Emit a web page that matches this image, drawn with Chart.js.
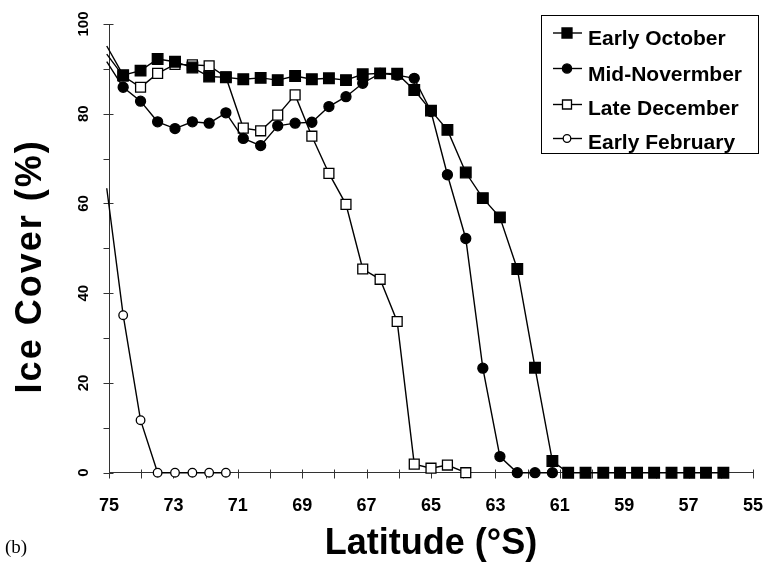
<!DOCTYPE html>
<html><head><meta charset="utf-8">
<script src="https://cdn.jsdelivr.net/npm/chart.js@4.4.0/dist/chart.umd.min.js"></script>
<style>html,body{margin:0;padding:0;background:#fff;} #wrap{width:763px;height:566px;position:relative;}</style>
</head><body><div id="wrap"><canvas id="c" width="763" height="566"></canvas></div>
<script>
// ---- data ----
const latitudes = [75.07, 74.56, 74.02, 73.49, 72.95, 72.41, 71.89, 71.37, 70.83, 70.29, 69.76, 69.22, 68.70, 68.17, 67.64, 67.12, 66.58, 66.05, 65.52, 65.00, 64.49, 63.92, 63.39, 62.86, 62.32, 61.77, 61.23, 60.74, 60.20, 59.65, 59.13, 58.60, 58.07, 57.53, 56.98, 56.46, 55.92];
const earlyOctober = [95.1, 88.6, 89.6, 92.2, 91.6, 90.3, 88.3, 88.1, 87.7, 88.0, 87.5, 88.4, 87.7, 87.9, 87.5, 88.8, 89.0, 88.9, 85.3, 80.7, 76.4, 66.9, 61.2, 56.9, 45.4, 23.4, 2.6, 0, 0, 0, 0, 0, 0, 0, 0, 0, 0];
const midNovember = [91.6, 85.9, 82.8, 78.2, 76.7, 78.2, 77.9, 80.2, 74.5, 72.9, 77.3, 77.9, 78.1, 81.6, 83.8, 86.8, 89.0, 88.6, 87.9, 80.5, 66.4, 52.2, 23.3, 3.6, 0, 0, 0];
const lateDecember = [93.3, 88.4, 85.9, 89.0, 91.0, 90.9, 90.7, 88.2, 76.8, 76.2, 79.7, 84.2, 75.0, 66.7, 59.8, 45.4, 43.1, 33.7, 1.9, 1.0, 1.7, 0];
const earlyFebruary = [63.4, 35.1, 11.7, 0, 0, 0, 0, 0];
const seriesLabels = ['Early October', 'Mid-Novermber', 'Late December', 'Early February'];
const xTickLabels = [75, 73, 71, 69, 67, 65, 63, 61, 59, 57, 55];
const yTickLabels = [0, 20, 40, 60, 80, 100];

const SANS = "'Liberation Sans', Arial, Helvetica, sans-serif";

function pts(values) {
  return values.map((v, i) => ({x: latitudes[i], y: v}));
}
// first sample sits on the axis edge, drawn without a marker
function radius(r) { return ctx => (ctx.dataIndex === 0 ? 0 : r); }

const styles = [
  {pointStyle: 'rect', r: 7.5, fill: '#000'},
  {pointStyle: 'circle', r: 5, fill: '#000'},
  {pointStyle: 'rect', r: 7, fill: '#fff'},
  {pointStyle: 'circle', r: 4.3, fill: '#fff'}
];
const seriesValues = [earlyOctober, midNovember, lateDecember, earlyFebruary];

const datasets = seriesValues.map((vals, k) => ({
  label: seriesLabels[k],
  data: pts(vals),
  borderColor: '#000',
  borderWidth: 1.4,
  tension: 0,
  clip: false,
  pointStyle: styles[k].pointStyle,
  pointRadius: radius(styles[k].r),
  pointHoverRadius: radius(styles[k].r),
  pointBackgroundColor: styles[k].fill,
  pointBorderColor: '#000',
  pointBorderWidth: 1.3
}));

const tickMarks = {
  id: 'tickMarks',
  beforeDatasetsDraw(chart) {
    const {ctx, scales: {x, y}} = chart;
    ctx.save();
    ctx.strokeStyle = '#333';
    ctx.lineWidth = 1;
    ctx.beginPath();
    const xb = Math.round(x.top) + 0.5;
    x.ticks.forEach(t => {
      const px = Math.round(x.getPixelForValue(t.value)) + 0.5;
      ctx.moveTo(px, xb - 4); ctx.lineTo(px, xb + 5);
    });
    const yb = Math.round(y.right) - 0.5;
    y.ticks.forEach(t => {
      const py = Math.round(y.getPixelForValue(t.value)) + 0.5;
      const major = yTickLabels.includes(t.value);
      ctx.moveTo(yb - 5, py); ctx.lineTo(yb + (major ? 5 : 1), py);
    });
    ctx.stroke();
    ctx.restore();
  }
};

const boxLegend = {
  id: 'boxLegend',
  afterDraw(chart) {
    const ctx = chart.ctx;
    ctx.save();
    ctx.strokeStyle = '#000';
    ctx.lineWidth = 1;
    ctx.strokeRect(541.5, 15.5, 217, 138);
    const markY = [33, 68.5, 104.5, 138.5];
    const textY = [45, 80.5, 115, 149];
    chart.data.datasets.forEach((ds, k) => {
      const my = markY[k];
      ctx.beginPath();
      ctx.moveTo(553, my); ctx.lineTo(582, my);
      ctx.lineWidth = 1.4; ctx.strokeStyle = '#000'; ctx.stroke();
      const st = styles[k];
      ctx.fillStyle = st.fill; ctx.lineWidth = 1.3;
      ctx.beginPath();
      if (st.pointStyle === 'rect') {
        const h = k === 0 ? 5 : 4.5;
        ctx.rect(567 - h, my - h, 2 * h, 2 * h);
      } else {
        ctx.arc(567, my, k === 1 ? 4.6 : 3.8, 0, Math.PI * 2);
      }
      ctx.fill(); ctx.stroke();
      ctx.fillStyle = '#000';
      ctx.font = "bold 21px " + SANS;
      ctx.textBaseline = 'alphabetic';
      ctx.textAlign = 'left';
      ctx.fillText(ds.label, 588, textY[k]);
    });
    ctx.font = "19px 'Liberation Serif', 'Times New Roman', serif";
    ctx.fillText('(b)', 5, 553);
    ctx.restore();
  }
};

const yTitleStyle = {
  id: 'yTitleStyle',
  afterLayout(chart) {
    const s = chart.scales.y;
    if (s && !s._styledTitle) {
      const orig = s.drawTitle;
      s.drawTitle = function () {
        const c = this.ctx;
        c.save();
        c.letterSpacing = '2px';
        c.translate(0, 18);
        orig.call(this);
        c.restore();
      };
      s._styledTitle = true;
    }
  }
};

new Chart(document.getElementById('c'), {
  type: 'line',
  data: {datasets},
  plugins: [tickMarks, boxLegend, yTitleStyle],
  options: {
    responsive: false,
    animation: false,
    events: [],
    layout: {padding: {top: 24, right: 10, left: 0, bottom: 0}},
    plugins: {legend: {display: false}, tooltip: {enabled: false}},
    scales: {
      x: {
        type: 'linear', reverse: true, min: 55, max: 75,
        afterFit: s => { s.height = 93.3; },
        ticks: {
          stepSize: 1, autoSkip: false, maxRotation: 0, minRotation: 0, padding: 0,
          color: '#000', font: {family: SANS, size: 18, weight: 'bold'},
          callback: v => (xTickLabels.includes(v) ? String(v) : '')
        },
        grid: {display: true, drawOnChartArea: false, drawTicks: true, tickLength: 23, tickColor: 'rgba(0,0,0,0)'},
        border: {display: true, color: '#333', width: 1},
        title: {display: true, text: 'Latitude (°S)', color: '#000', padding: 0,
                font: {family: SANS, size: 36, weight: 'bold'}}
      },
      y: {
        type: 'linear', min: 0, max: 100,
        afterFit: s => { s.width = 109; },
        ticks: {
          stepSize: 10, autoSkip: false, minRotation: 90, maxRotation: 90, crossAlign: 'center', padding: 0,
          color: '#000', font: {family: SANS, size: 15, weight: 'bold'},
          callback: v => (yTickLabels.includes(v) ? String(v) : '')
        },
        grid: {display: true, drawOnChartArea: false, drawTicks: true, tickLength: 13, tickColor: 'rgba(0,0,0,0)'},
        border: {display: true, color: '#333', width: 1},
        title: {display: true, text: 'Ice Cover (%)', color: '#000', padding: {top: 9, bottom: 0},
                font: {family: SANS, size: 36, weight: 'bold'}}
      }
    }
  }
});
</script></body></html>
